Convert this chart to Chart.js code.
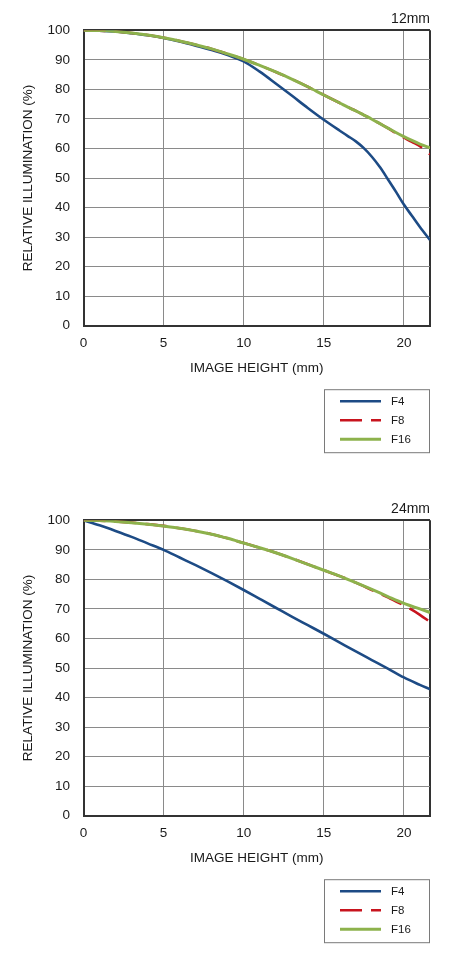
<!DOCTYPE html>
<html lang="en">
<head>
  <meta charset="UTF-8">
  <title>Relative Illumination</title>
  <script src="https://cdn.jsdelivr.net/npm/chart.js"></script>
  <style>
    body { margin: 0; background: #fff; }
    canvas { display: block; }
  </style>
</head>
<body>
  <canvas id="chart12" width="471" height="490"></canvas>
  <canvas id="chart24" width="471" height="464"></canvas>

  <script>
    // image height (mm) sample points
    const heights12 = [0, 1, 2, 3, 4, 5, 6, 7, 8, 9, 10, 11, 12, 13, 14, 15, 16, 16.5, 17, 17.5, 18, 18.5, 19, 19.5, 20, 20.5, 21, 21.63];
    const heights24 = [0, 1, 2, 3, 4, 5, 6, 7, 8, 9, 10, 11, 12, 13, 14, 15, 16, 17, 18, 19, 20, 21, 21.63];

    // 12mm relative illumination (%)
    const f4_12  = [100, 99.9, 99.6, 99.0, 98.3, 97.4, 96.2, 94.8, 93.3, 91.6, 89.5, 86.0, 82.0, 77.9, 73.7, 69.7, 66.0, 64.2, 62.4, 60.1, 57.2, 53.7, 49.6, 45.4, 41.0, 37.2, 33.4, 29.0];
    const f8_12  = [100, 99.9, 99.6, 99.1, 98.4, 97.5, 96.4, 95.1, 93.7, 92.0, 90.2, 88.1, 85.9, 83.5, 80.9, 78.1, 75.4, 74.0, 72.7, 71.3, 69.9, 68.4, 66.9, 65.2, 63.7, 62.2, 60.8, 58.0];
    const f16_12 = [100, 99.9, 99.6, 99.1, 98.4, 97.5, 96.4, 95.1, 93.7, 92.0, 90.2, 88.1, 85.9, 83.5, 80.9, 78.1, 75.4, 74.0, 72.7, 71.3, 69.9, 68.4, 66.9, 65.4, 64.0, 62.7, 61.5, 60.2];

    // 24mm relative illumination (%)
    const f4_24  = [100, 98.3, 96.4, 94.4, 92.2, 90.0, 87.4, 84.8, 82.1, 79.3, 76.4, 73.4, 70.4, 67.4, 64.5, 61.6, 58.6, 55.6, 52.7, 49.8, 46.8, 44.3, 42.8];
    const f8_24  = [100, 99.9, 99.6, 99.2, 98.7, 98.1, 97.3, 96.4, 95.3, 93.9, 92.3, 90.7, 89.0, 87.1, 85.1, 83.1, 81.1, 78.9, 76.4, 73.9, 71.2, 68.0, 65.6];
    const f16_24 = [100, 99.9, 99.6, 99.2, 98.7, 98.1, 97.3, 96.4, 95.3, 93.9, 92.3, 90.7, 89.0, 87.1, 85.1, 83.1, 81.1, 78.9, 76.6, 74.2, 71.9, 70.0, 68.8];

    const apertures = ['F4', 'F8', 'F16'];
    const xTicks = [0, 5, 10, 15, 20];
    const xMax = 21.63;

    const FONT = '"Liberation Sans", Arial, sans-serif';
    const TEXT = '#1a1a1a';
    const GRID = '#8a8a8a';
    const FRAME = '#333333';

    const styles = [
      { color: '#1d4b85', width: 2.6, dash: [], order: 3 },
      { color: '#c8141e', width: 2.6, dash: [22, 9], order: 2 },
      { color: '#8db24c', width: 3, dash: [], order: 1 }
    ];

    function points(xs, ys) {
      return xs.map((x, i) => ({ x: x, y: ys[i] }));
    }

    // legend box below the plot, right aligned
    const boxLegend = {
      id: 'boxLegend',
      afterDraw(chart) {
        const ctx = chart.ctx;
        const a = chart.chartArea;
        const w = 106, h = 63;
        const left = a.right - w, top = a.bottom + 63.5;
        ctx.save();
        ctx.strokeStyle = '#7a7a7a';
        ctx.lineWidth = 1;
        ctx.strokeRect(left + 0.5, top + 0.5, w - 1, h);
        chart.data.datasets.forEach((ds, i) => {
          const y = top + 12 + i * 19;
          ctx.beginPath();
          ctx.strokeStyle = ds.borderColor;
          ctx.lineWidth = ds.borderWidth;
          ctx.setLineDash(ds.borderDash);
          ctx.moveTo(left + 16, y);
          ctx.lineTo(left + 57, y);
          ctx.stroke();
          ctx.setLineDash([]);
          ctx.fillStyle = TEXT;
          ctx.font = '11.5px ' + FONT;
          ctx.textBaseline = 'middle';
          ctx.fillText(ds.label, left + 67, y + 0.5);
        });
        ctx.restore();
      }
    };

    function makeChart(id, title, xs, series, bottomPad) {
      return new Chart(document.getElementById(id), {
        type: 'line',
        data: {
          datasets: series.map((ys, i) => ({
            label: apertures[i],
            data: points(xs, ys),
            borderColor: styles[i].color,
            borderWidth: styles[i].width,
            borderDash: styles[i].dash,
            order: styles[i].order,
            pointRadius: 0,
            fill: false,
            cubicInterpolationMode: 'monotone'
          }))
        },
        options: {
          responsive: false,
          animation: false,
          events: [],
          layout: { padding: { left: 0, right: 41, top: 0, bottom: bottomPad } },
          plugins: {
            legend: { display: false },
            tooltip: { enabled: false },
            title: {
              display: true,
              text: title,
              align: 'end',
              color: TEXT,
              font: { family: FONT, size: 14, weight: 'normal' },
              padding: { top: 10.5, bottom: 3 }
            }
          },
          scales: {
            x: {
              type: 'linear',
              min: 0,
              max: xMax,
              afterBuildTicks(scale) {
                scale.ticks = xTicks.concat([xMax]).map(v => ({ value: v }));
              },
              afterFit(scale) { scale.height = 50.3; },
              ticks: {
                padding: 9,
                color: TEXT,
                font: { family: FONT, size: 13.5 },
                maxRotation: 0,
                callback: v => (xTicks.includes(v) ? String(v) : '')
              },
              grid: {
                drawTicks: false,
                color: c => (c.tick && c.tick.value === xMax ? FRAME : GRID),
                lineWidth: c => (c.tick && c.tick.value === xMax ? 2 : 1)
              },
              border: { display: true, color: FRAME, width: 2 },
              title: {
                display: true,
                text: 'IMAGE HEIGHT (mm)',
                color: TEXT,
                font: { family: FONT, size: 13.5 },
                padding: { top: 0, bottom: 0 }
              }
            },
            y: {
              min: 0,
              max: 100,
              afterFit(scale) { scale.width = 83.5; },
              ticks: {
                stepSize: 10,
                padding: 13.5,
                color: TEXT,
                font: { family: FONT, size: 13.5 }
              },
              grid: {
                drawTicks: false,
                color: c => (c.tick && c.tick.value === 100 ? FRAME : GRID),
                lineWidth: c => (c.tick && c.tick.value === 100 ? 2 : 1)
              },
              border: { display: true, color: FRAME, width: 2 },
              title: {
                display: true,
                text: 'RELATIVE ILLUMINATION (%)',
                color: TEXT,
                font: { family: FONT, size: 13.5 },
                padding: { top: 20, bottom: 0 }
              }
            }
          }
        },
        plugins: [boxLegend]
      });
    }

    makeChart('chart12', '12mm', heights12, [f4_12, f8_12, f16_12], 114);
    makeChart('chart24', '24mm', heights24, [f4_24, f8_24, f16_24], 88);
  </script>
</body>
</html>
